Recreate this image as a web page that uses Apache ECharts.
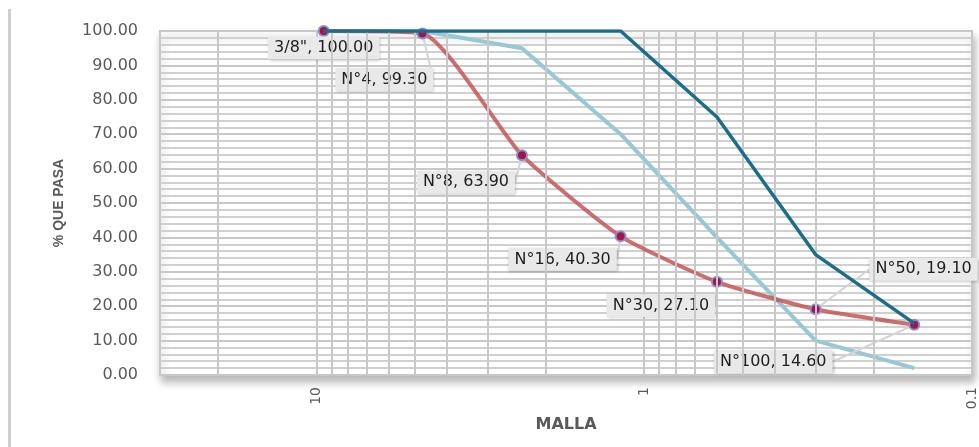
<!DOCTYPE html>
<html><head><meta charset="utf-8">
<script src="https://cdn.jsdelivr.net/npm/echarts@6/dist/echarts.min.js"></script>
<style>html,body{margin:0;padding:0;background:#fff}#c{width:979px;height:447px}</style>
</head><body><div id="c"></div>
<script>
// ---- data ----
const sieveNames = ['3/8"', 'N°4', 'N°8', 'N°16', 'N°30', 'N°50', 'N°100'];
const sieveOpenings = [9.5, 4.75, 2.36, 1.18, 0.6, 0.3, 0.15];
const passing = [100, 99.3, 63.9, 40.3, 27.1, 19.1, 14.6];
const upperLimit = [100, 100, 100, 100, 75, 35, 15];
const lowerLimit = [100, 100, 95, 70, 40, 10, 2];
const xMinorGrid = [20, 9, 8, 7, 6, 5, 4, 3, 2, 0.9, 0.8, 0.7, 0.6, 0.5, 0.4, 0.3, 0.2];
const xRange = [0.1, 30];
const yRange = [0, 100];

// label displacement (layout only)
const labelShift = [[0, 17], [-38, 46], [-56, 27], [-58, 23], [-56, 24], [108, -40], [-141, 37]];

const pair = (ys) => sieveOpenings.map((x, i) => [x, ys[i]]);
const gridColor = '#c8c8c8';

const chart = echarts.init(document.getElementById('c'));
chart.setOption({
  animation: false,
  backgroundColor: '#fff',
  graphic: [{
    type: 'rect', left: 8, top: 9, shape: { width: 3, height: 438 },
    style: { fill: '#cfcfcf' }, silent: true
  }],
  grid: {
    left: 160, right: 4, top: 31, bottom: 72,
    show: true, backgroundColor: '#fff', borderColor: '#c4c4c4', borderWidth: 2,
    shadowColor: 'rgba(0,0,0,0.28)', shadowBlur: 8, shadowOffsetY: 6, shadowOffsetX: 2
  },
  xAxis: {
    type: 'log', logBase: 10, inverse: true, min: xRange[0], max: xRange[1],
    name: 'MALLA', nameLocation: 'middle', nameGap: 38,
    nameTextStyle: { fontFamily: 'DejaVu Sans', fontWeight: 'bold', fontSize: 16, color: '#595959' },
    axisLine: { show: false }, axisTick: { show: false },
    axisLabel: {
      rotate: 90, margin: 12, fontFamily: 'DejaVu Sans', fontSize: 14, color: '#595959',
      showMaxLabel: false,
      formatter: (v) => { const l = Math.log10(v); return Math.abs(l - Math.round(l)) < 1e-6 ? String(+v.toPrecision(3)) : ''; }
    },
    splitLine: { show: true, lineStyle: { color: gridColor, width: 2 } }
  },
  yAxis: {
    type: 'value', min: yRange[0], max: yRange[1], interval: 10,
    name: '% QUE PASA', nameLocation: 'middle', nameGap: 94, nameRotate: 90,
    nameTextStyle: { fontFamily: 'Liberation Sans Narrow, Liberation Sans', fontWeight: 'bold', fontSize: 14, color: '#595959' },
    axisLine: { show: false }, axisTick: { show: false },
    axisLabel: { margin: 22, fontFamily: 'DejaVu Sans', fontSize: 16, color: '#595959', formatter: (v) => v.toFixed(2) },
    splitLine: { show: true, lineStyle: { color: gridColor, width: 2 } },
    minorTick: { show: false, splitNumber: 5 },
    minorSplitLine: { show: true, lineStyle: { color: '#d0d0d0', width: 2 } }
  },
  series: [
    {
      type: 'line', data: [], z: 1, silent: true,
      markLine: {
        silent: true, symbol: 'none', label: { show: false },
        lineStyle: { color: gridColor, width: 2, type: 'solid' },
        data: xMinorGrid.map(v => ({ xAxis: v }))
      }
    },
    {
      name: 'Límite inferior', type: 'line', z: 3, data: pair(lowerLimit),
      showSymbol: false, symbol: 'none',
      lineStyle: { color: '#96c8d5', width: 4 }
    },
    {
      name: 'Muestra', type: 'line', z: 4, data: pair(passing),
      smooth: 0.18,
      symbol: 'circle', symbolSize: 10,
      itemStyle: { color: '#a0164a', borderColor: '#8b8fcb', borderWidth: 2 },
      lineStyle: { color: 'rgba(196,86,86,0.85)', width: 4 },
      label: {
        show: true, position: 'inside',
        formatter: (p) => sieveNames[p.dataIndex] + ', ' + p.value[1].toFixed(2),
        fontFamily: 'DejaVu Sans', fontSize: 16, color: '#1e1e1e',
        backgroundColor: '#e9e9e9', padding: [4, 6, 3, 6],
        shadowColor: 'rgba(0,0,0,0.25)', shadowBlur: 3, shadowOffsetX: 1, shadowOffsetY: 1
      },
      labelLine: { show: true, lineStyle: { color: '#d4d4d4', width: 2 } },
      labelLayout: (params) => ({ dx: labelShift[params.dataIndex][0], dy: labelShift[params.dataIndex][1] })
    },
    {
      name: 'Límite superior', type: 'line', z: 5, data: pair(upperLimit),
      showSymbol: false, symbol: 'none',
      lineStyle: { color: '#1b6e8b', width: 3.5 }
    }
  ]
});
</script>
</body></html>
